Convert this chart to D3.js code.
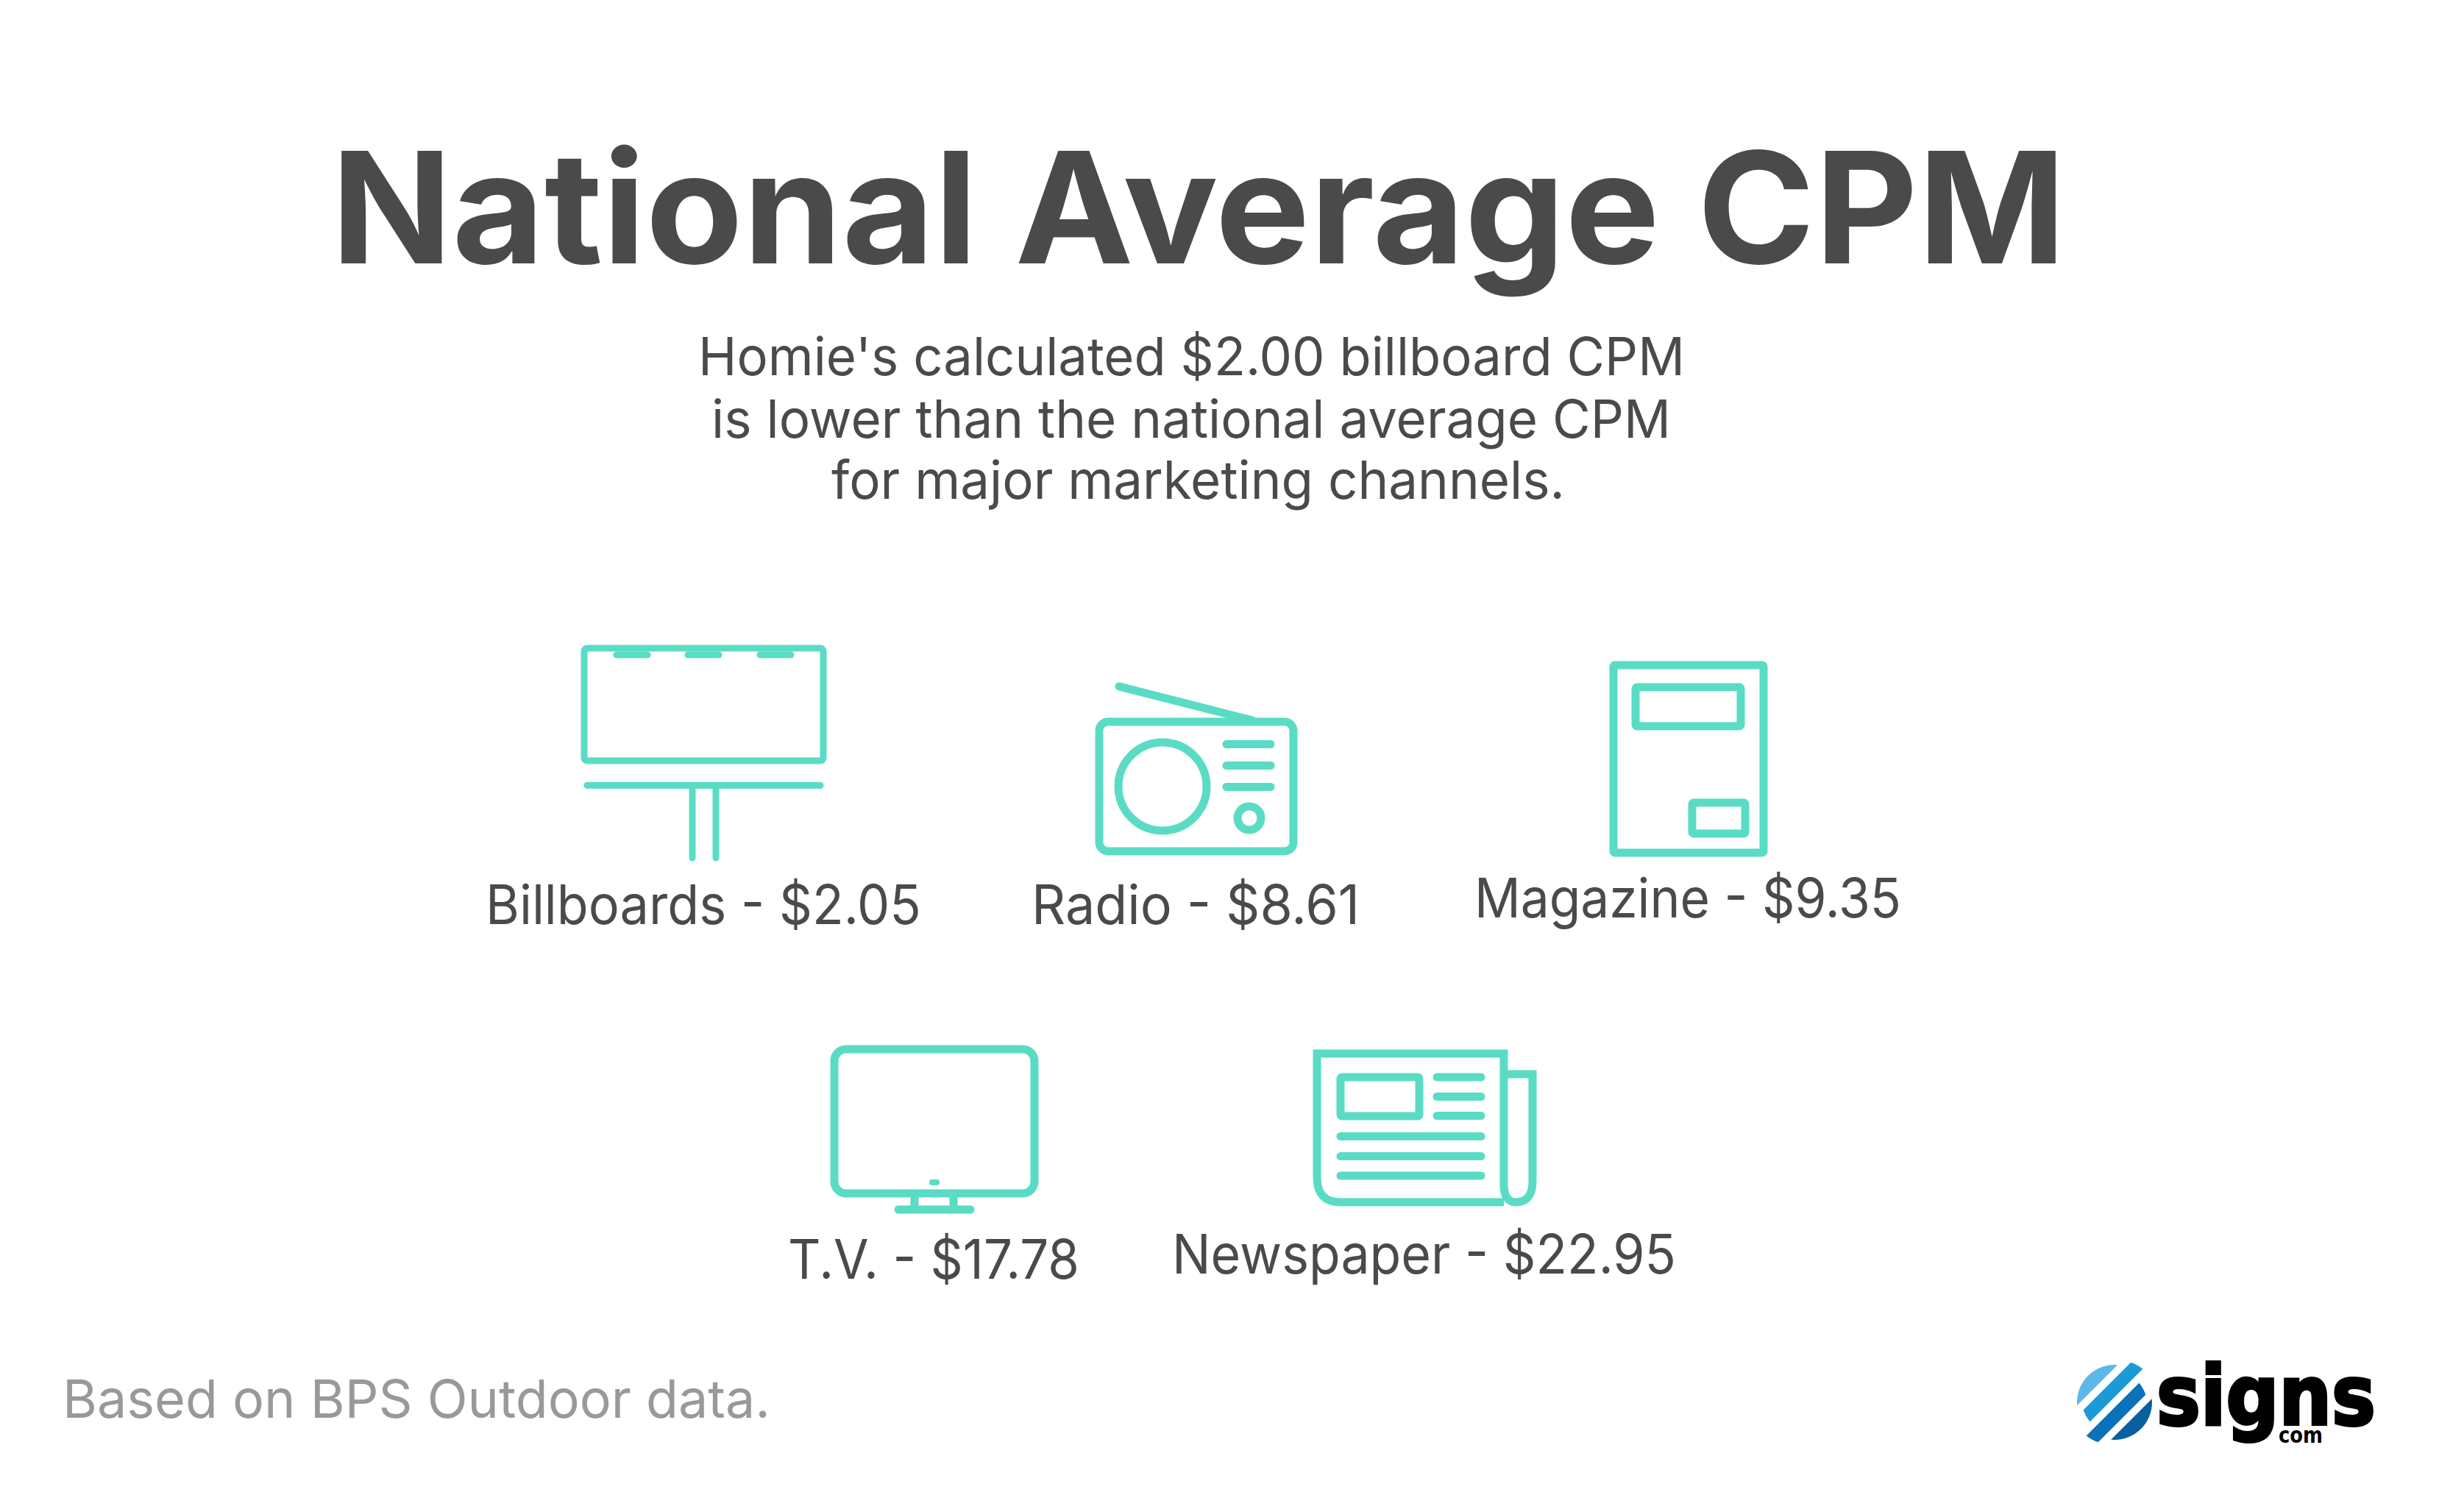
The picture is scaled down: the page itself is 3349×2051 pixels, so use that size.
<!DOCTYPE html>
<html>
<head>
<meta charset="utf-8">
<title>National Average CPM</title>
<script src="https://cdn.jsdelivr.net/npm/d3@7"></script>
<style>
  html, body { margin: 0; padding: 0; background: #fff; }
  svg { display: block; }
  text { font-family: Inter, "Noto Sans", sans-serif; }
</style>
</head>
<body>
<div id="chart"></div>
<script>
// ========= DATA =========
const channels = ["Billboards", "Radio", "Magazine", "T.V.", "Newspaper"];
const cpmValues = [2.05, 8.61, 9.35, 17.78, 22.95];
const titleText = "National Average CPM";
const subtitleLines = [
  "Homie's calculated $2.00 billboard CPM",
  "is lower than the national average CPM",
  "for major marketing channels."
];
const sourceText = "Based on BPS Outdoor data.";

// ========= CONFIG =========
const WIDTH = 3349, HEIGHT = 2051;
const TEAL = "#5adcc4";
const INK = "#4a4a4a";

// label box per channel: left, right, baseline
const labelBoxes = [
  [660, 1252, 1256],
  [1402, 1848, 1256],
  [2004, 2584, 1247],
  [1071, 1467, 1738],
  [1593, 2278, 1731]
];
const subtitleBoxes = [
  [949, 2290, 510],
  [967, 2271, 595],
  [1130, 2127, 678]
];

const svg = d3.select("#chart").append("svg")
  .attr("width", WIDTH)
  .attr("height", HEIGHT);

// ========= HELPERS =========
function fitText(parent, str, x0, x1, y, size, weight, color){
  return parent.append("text")
    .attr("x", x0)
    .attr("y", y)
    .attr("font-size", size)
    .attr("font-weight", weight)
    .attr("fill", color)
    .attr("textLength", x1 - x0)
    .attr("lengthAdjust", "spacingAndGlyphs")
    .text(str);
}

function box(g, x, y, w, h, r, sw){
  g.append("rect").attr("x", x).attr("y", y).attr("width", w).attr("height", h)
    .attr("rx", r).attr("stroke-width", sw);
}

function bar(g, x1, y1, x2, y2, sw){
  g.append("line").attr("x1", x1).attr("y1", y1).attr("x2", x2).attr("y2", y2)
    .attr("stroke-width", sw).attr("stroke-linecap", "round");
}

function icon(){
  return svg.append("g").attr("class", "icon")
    .attr("fill", "none").attr("stroke", TEAL);
}

// ========= ICONS =========
function drawBillboard(){
  const g = icon();
  box(g, 794, 881, 325, 153, 4, 9);
  [838, 935, 1033].forEach(x => bar(g, x, 890, x + 42, 890, 9));
  bar(g, 798, 1067.5, 1115, 1067.5, 9);
  bar(g, 941, 1072, 941, 1166, 9);
  bar(g, 973, 1072, 973, 1166, 9);
}

function drawRadio(){
  const g = icon();
  bar(g, 1521, 933, 1702, 979, 11);
  box(g, 1494, 981, 264, 176, 12, 11);
  g.append("circle").attr("cx", 1580).attr("cy", 1069).attr("r", 60).attr("stroke-width", 11);
  g.append("circle").attr("cx", 1698).attr("cy", 1112).attr("r", 16).attr("stroke-width", 11);
  [1011.5, 1040.5, 1069.5].forEach(y => bar(g, 1667, y, 1727, y, 11));
}

function drawMagazine(){
  const g = icon();
  box(g, 2193, 904, 204, 255, 2, 11);
  box(g, 2223, 934, 143, 53, 2, 11);
  box(g, 2300, 1091, 72, 42, 2, 11);
}

function drawTv(){
  const g = icon();
  box(g, 1134, 1426, 272, 196, 16, 11);
  bar(g, 1267, 1607, 1273, 1607, 8);
  bar(g, 1243, 1627, 1243, 1638, 11);
  bar(g, 1296, 1627, 1296, 1638, 11);
  bar(g, 1221, 1644, 1319, 1644, 11);
}

function drawNewspaper(){
  const g = icon();
  const page = d3.path();
  page.moveTo(2044, 1634);
  page.lineTo(1822, 1634);
  page.quadraticCurveTo(1790, 1634, 1790, 1600);
  page.lineTo(1790, 1432);
  page.lineTo(2044, 1432);
  page.lineTo(2044, 1610);
  page.quadraticCurveTo(2044, 1634, 2060, 1634);
  page.quadraticCurveTo(2083, 1634, 2083, 1605);
  page.lineTo(2083, 1460);
  page.lineTo(2049, 1460);
  g.append("path").attr("d", page.toString()).attr("stroke-width", 11);
  box(g, 1822, 1464, 107, 53, 2, 11);
  [1464, 1490.5, 1516.5].forEach(y => bar(g, 1953, y, 2013, y, 11));
  [1544.5, 1571.5, 1598].forEach(y => bar(g, 1822, y, 2013, y, 11));
}

// ========= LOGO =========
function drawLogo(){
  const cx = 2874, cy = 1906, r = 51, shift = 6;
  const bands = [
    { from: -52, to: -33, dx: 0, fill: "#5bb8e8" },
    { from: -22.6, to: -5, dx: shift, fill: "#1b9ad6" },
    { from: 5, to: 22.6, dx: -shift, fill: "#0b72b9" },
    { from: 32.5, to: 52, dx: 0, fill: "#0a609f" }
  ];
  const defs = svg.append("defs");
  const g = svg.append("g").attr("class", "logo");
  bands.forEach((b, i) => {
    defs.append("clipPath").attr("id", "band" + i)
      .append("circle")
      .attr("cx", cx + b.dx).attr("cy", cy - b.dx).attr("r", r);
    g.append("g").attr("clip-path", `url(#band${i})`)
      .append("rect")
      .attr("x", -90).attr("width", 180)
      .attr("y", b.from).attr("height", b.to - b.from)
      .attr("transform", `translate(${cx},${cy}) rotate(-45)`)
      .attr("fill", b.fill);
  });
  fitText(svg, "signs", 2931, 3229, 1936, 112, 700, "#000")
    .style("font-family", "'DejaVu Sans'")
    .attr("stroke", "#000").attr("stroke-width", 4);
  fitText(svg, "com", 3097, 3157, 1961, 30, 700, "#000")
    .style("font-family", "'DejaVu Sans'");
}

// ========= RENDER =========
function render(){
  fitText(svg, titleText, 450, 2808, 358, 210, 700, INK);

  subtitleLines.forEach((line, i) => {
    const [x0, x1, y] = subtitleBoxes[i];
    fitText(svg, line, x0, x1, y, 72, 400, INK);
  });

  drawBillboard();
  drawRadio();
  drawMagazine();
  drawTv();
  drawNewspaper();

  const money = d3.format("$.2f");
  channels.forEach((name, i) => {
    const [x0, x1, y] = labelBoxes[i];
    fitText(svg, `${name} - ${money(cpmValues[i])}`, x0, x1, y, 74, 400, INK);
  });

  fitText(svg, sourceText, 85, 1047, 1927, 72, 400, "#999999");
  drawLogo();
}

render();
</script>
</body>
</html>
